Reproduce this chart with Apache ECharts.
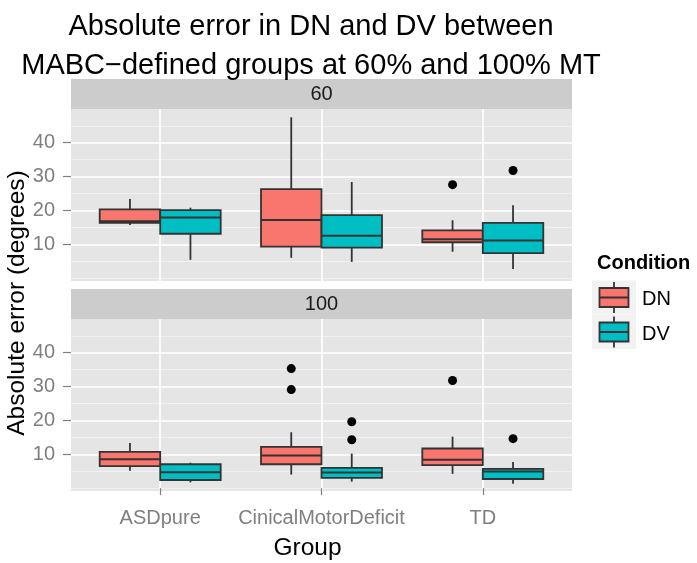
<!DOCTYPE html>
<html><head><meta charset="utf-8">
<script src="https://cdn.jsdelivr.net/npm/echarts@6/dist/echarts.min.js"></script>
<style>html,body{margin:0;padding:0;background:#fff}#c{width:697px;height:563px}</style>
</head><body><div id="c"></div>
<script>
// ---- data ----
const groups = ['ASDpure', 'CinicalMotorDeficit', 'TD'];
const conditions = ['DN', 'DV'];
const panels = ['60', '100'];
const yTicks = [10, 20, 30, 40];
const yMinor = [0, 5, 15, 25, 35, 45];
// [lower whisker, Q1, median, Q3, upper whisker] per group
const dn60 = [[15.7, 16.3, 16.8, 20.3, 23.4], [6.0, 9.3, 17.2, 26.3, 47.5], [7.8, 10.6, 11.5, 14.1, 17.1]];
const dv60 = [[5.4, 13.1, 17.9, 20.1, 20.8], [4.8, 9.0, 12.5, 18.6, 28.4], [2.7, 7.4, 11.1, 16.3, 21.5]];
const dn100 = [[5.1, 6.5, 8.5, 10.7, 13.3], [4.0, 7.05, 9.6, 12.2, 16.5], [4.2, 6.8, 8.4, 11.7, 15.2]];
const dv100 = [[1.7, 2.4, 4.7, 7.05, 7.5], [1.9, 3.0, 4.6, 6.0, 10.2], [1.3, 2.7, 4.9, 5.7, 7.7]];
// outliers per group
const dn60Out = [[], [], [27.6]];
const dv60Out = [[], [], [31.8]];
const dn100Out = [[], [35.3, 29.1], [31.8]];
const dv100Out = [[], [19.6, 14.3], [14.6]];

// ---- styles / layout ----
const FONT = 'Liberation Sans';
const COLORS = {DN: '#F8766D', DV: '#00BFC4'};
const BOXW = 0.375, OFF = 0.1875;
const XMIN = 0.447, XMAX = 3.553, YMIN = -0.85, YMAX = 49.95;
const PL = 71, PW = 501, PH = 172, PT = [109, 319], ST = [79, 289];

const chart = echarts.init(document.getElementById('c'), null, {renderer: 'canvas'});

function xAxis(gi, showLabels) {
  return {
    type: 'value', gridIndex: gi, min: XMIN, max: XMAX,
    axisLine: {show: false},
    axisTick: {show: showLabels, customValues: [1, 2, 3], length: 7, lineStyle: {color: '#7f7f7f', width: 1.2}},
    axisLabel: {show: showLabels, customValues: [1, 2, 3], formatter: v => groups[Math.round(v) - 1] || '',
      color: '#7f7f7f', fontSize: 20, fontFamily: FONT, margin: 17},
    splitLine: {show: true, lineStyle: {color: '#ffffff', width: 1.6}},
    name: showLabels ? 'Group' : '', nameLocation: 'middle', nameGap: 45,
    nameTextStyle: {fontSize: 24.5, fontFamily: FONT, color: '#000', padding: [0, 28, 0, 0]}
  };
}
function yMajor(gi) {
  return {
    type: 'value', gridIndex: gi, min: YMIN, max: YMAX,
    axisLine: {show: false},
    axisTick: {show: true, customValues: yTicks, length: 8, lineStyle: {color: '#7f7f7f', width: 1.2}},
    axisLabel: {customValues: yTicks, color: '#7f7f7f', fontSize: 20, fontFamily: FONT, margin: 16},
    splitLine: {show: true, lineStyle: {color: '#ffffff', width: 1.6}}
  };
}
function yMinorAxis(gi) {
  return {
    type: 'value', gridIndex: gi, min: YMIN, max: YMAX, position: 'left',
    axisLine: {show: false},
    axisTick: {show: false, customValues: yMinor},
    axisLabel: {show: false, customValues: yMinor},
    splitLine: {show: true, lineStyle: {color: '#F2F2F2', width: 0.9}}
  };
}

function boxSeries(stats, cond, gi) {
  const off = cond === 'DN' ? -OFF : OFF;
  const color = COLORS[cond];
  return {
    type: 'custom', name: cond, xAxisIndex: gi, yAxisIndex: gi * 2, z: 3,
    data: stats.map((d, i) => [i + 1].concat(d)),
    renderItem: function (params, api) {
      const x = api.value(0) + off;
      const lo = api.coord([x, api.value(1)]);
      const q1 = api.coord([x, api.value(2)]);
      const md = api.coord([x, api.value(3)]);
      const q3 = api.coord([x, api.value(4)]);
      const hi = api.coord([x, api.value(5)]);
      const w = api.size([BOXW, 0])[0];
      const cx = lo[0], left = cx - w / 2;
      const st = {stroke: '#333333', lineWidth: 1.8};
      return {type: 'group', children: [
        {type: 'line', shape: {x1: cx, y1: hi[1], x2: cx, y2: q3[1]}, style: st},
        {type: 'line', shape: {x1: cx, y1: q1[1], x2: cx, y2: lo[1]}, style: st},
        {type: 'rect', shape: {x: left, y: q3[1], width: w, height: q1[1] - q3[1]},
          style: {fill: color, stroke: '#333333', lineWidth: 1.8}},
        {type: 'line', shape: {x1: left, y1: md[1], x2: left + w, y2: md[1]}, style: {stroke: '#333333', lineWidth: 2}}
      ]};
    }
  };
}
function outSeries(outs, cond, gi) {
  const off = cond === 'DN' ? -OFF : OFF;
  const data = [];
  outs.forEach((arr, i) => arr.forEach(v => data.push([i + 1 + off, v])));
  return {type: 'scatter', xAxisIndex: gi, yAxisIndex: gi * 2, z: 4, data: data,
    symbol: 'circle', symbolSize: 9, itemStyle: {color: '#000000', opacity: 1}, silent: true};
}

const graphic = [];
panels.forEach((p, i) => {
  graphic.push({type: 'rect', shape: {x: PL, y: ST[i], width: PW, height: 30}, style: {fill: '#CCCCCC'}, silent: true});
  graphic.push({type: 'text', x: PL + PW / 2, y: ST[i] + 15,
    style: {text: p, fontSize: 20, fontFamily: FONT, fill: '#1a1a1a', align: 'center', verticalAlign: 'middle'}});
});
graphic.push({type: 'text', x: 17, y: 303, rotation: Math.PI / 2,
  style: {text: 'Absolute error (degrees)', fontSize: 24.5, fontFamily: FONT, fill: '#000', align: 'center', verticalAlign: 'middle'}});
// legend
graphic.push({type: 'text', x: 597, y: 263,
  style: {text: 'Condition', fontSize: 20, fontWeight: 'bold', fontFamily: FONT, fill: '#000', align: 'left', verticalAlign: 'middle'}});
conditions.forEach((c, i) => {
  const cy = 297.5 + i * 34.5;
  graphic.push({type: 'rect', shape: {x: 592, y: cy - 17, width: 44, height: 34}, style: {fill: '#F2F2F2'}});
  graphic.push({type: 'line', shape: {x1: 614, y1: cy - 15.5, x2: 614, y2: cy + 15.5}, style: {stroke: '#333333', lineWidth: 1.8}});
  graphic.push({type: 'rect', shape: {x: 599.5, y: cy - 9.5, width: 29, height: 19}, style: {fill: COLORS[c], stroke: '#333333', lineWidth: 1.8}});
  graphic.push({type: 'line', shape: {x1: 599.5, y1: cy, x2: 628.5, y2: cy}, style: {stroke: '#333333', lineWidth: 2}});
  graphic.push({type: 'text', x: 642, y: cy + 2,
    style: {text: c, fontSize: 20, fontFamily: FONT, fill: '#000', align: 'left', verticalAlign: 'middle'}});
});

chart.setOption({
  animation: false,
  backgroundColor: '#ffffff',
  title: {
    text: 'Absolute error in DN and DV between\nMABC\u2212defined groups at 60% and 100% MT',
    left: 306, top: 2, textAlign: 'center',
    textStyle: {fontSize: 29, lineHeight: 39.5, fontFamily: FONT, fontWeight: 'normal', color: '#000'}
  },
  grid: PT.map(t => ({left: PL, top: t, width: PW, height: PH, show: true, backgroundColor: '#E5E5E5', borderWidth: 0})),
  xAxis: [xAxis(0, false), xAxis(1, true)],
  yAxis: [yMajor(0), yMinorAxis(0), yMajor(1), yMinorAxis(1)],
  series: [
    boxSeries(dn60, 'DN', 0), boxSeries(dv60, 'DV', 0),
    boxSeries(dn100, 'DN', 1), boxSeries(dv100, 'DV', 1),
    outSeries(dn60Out, 'DN', 0), outSeries(dv60Out, 'DV', 0),
    outSeries(dn100Out, 'DN', 1), outSeries(dv100Out, 'DV', 1)
  ],
  graphic: graphic
});
</script>
</body></html>
